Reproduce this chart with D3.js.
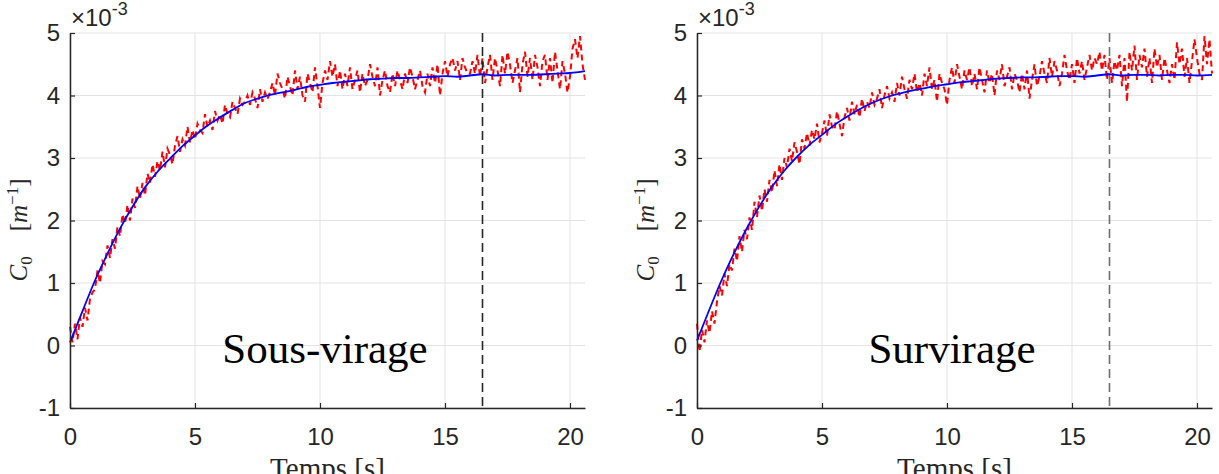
<!DOCTYPE html>
<html>
<head>
<meta charset="utf-8">
<script src="https://cdn.jsdelivr.net/npm/d3@7"></script>
<style>
  body { margin: 0; background: #fff; }
  svg { display: block; }
</style>
</head>
<body>
<div class="chart"></div>
<script>
// data (C0 in units of 1e-3 m^-1)
var xTicks = [0, 5, 10, 15, 20];
var yTicks = [-1, 0, 1, 2, 3, 4, 5];
var markerT = 16.5;

// filtered estimate, one value every 0.5 s (last point at 20.6 s)
var fitTime = [0, 0.5, 1, 1.5, 2, 2.5, 3, 3.5, 4, 4.5, 5, 5.5, 6, 6.5, 7, 7.5, 8, 8.5, 9, 9.5,
  10, 10.5, 11, 11.5, 12, 12.5, 13, 13.5, 14, 14.5, 15, 15.5, 16, 16.5, 17, 17.5, 18, 18.5, 19, 19.5, 20, 20.6];
var fitSous = [0.05, 0.55, 1.04, 1.47, 1.87, 2.22, 2.53, 2.78, 2.99, 3.19, 3.36, 3.52, 3.65, 3.77, 3.88, 3.95, 4.01, 4.05, 4.09, 4.14,
  4.17, 4.20, 4.22, 4.24, 4.26, 4.27, 4.28, 4.28, 4.29, 4.30, 4.31, 4.30, 4.32, 4.34, 4.32, 4.33, 4.33, 4.33, 4.34, 4.35, 4.36, 4.39];
var fitSur = [0.08, 0.58, 1.06, 1.49, 1.88, 2.23, 2.54, 2.80, 3.02, 3.21, 3.37, 3.53, 3.66, 3.78, 3.88, 3.96, 4.02, 4.07, 4.11, 4.15,
  4.18, 4.21, 4.23, 4.25, 4.27, 4.28, 4.29, 4.29, 4.30, 4.31, 4.31, 4.30, 4.32, 4.34, 4.32, 4.33, 4.33, 4.32, 4.33, 4.33, 4.32, 4.33];

// raw measurement, one value every 0.1 s from 0 to 20.6 s
var measSous = [
  0.30, 0.05, 0.35, 0.10, 0.45, 0.30, 0.60, 0.40, 0.75, 0.85,
  0.90, 1.20, 1.00, 1.35, 1.30, 1.60, 1.40, 1.70, 1.55, 1.90,
  1.75, 2.10, 1.95, 2.25, 2.00, 2.35, 2.20, 2.55, 2.35, 2.60,
  2.40, 2.75, 2.60, 2.90, 2.70, 2.95, 2.80, 3.10, 2.85, 3.15,
  3.05, 2.90, 3.20, 3.35, 3.10, 3.30, 3.20, 3.50, 3.25, 3.45,
  3.30, 3.55, 3.45, 3.40, 3.70, 3.50, 3.60, 3.45, 3.75, 3.60,
  3.70, 3.55, 3.85, 3.70, 3.65, 3.90, 3.80, 3.70, 3.95, 3.85,
  3.90, 4.00, 3.85, 4.05, 3.95, 3.80, 4.10, 3.90, 4.05, 3.95,
  4.05, 4.20, 4.00, 4.35, 4.20, 4.10, 3.95, 4.30, 4.15, 4.00,
  4.40, 4.10, 4.30, 4.00, 3.90, 4.35, 4.20, 4.05, 4.45, 4.15,
  3.80, 4.20, 4.40, 4.25, 4.55, 4.30, 4.50, 4.15, 4.40, 4.10,
  4.35, 4.15, 4.45, 4.10, 4.25, 4.40, 4.05, 4.35, 4.15, 4.25,
  4.50, 4.30, 4.15, 4.45, 4.00, 4.25, 4.40, 4.15, 4.05, 4.35,
  4.15, 4.40, 4.25, 4.10, 4.35, 4.20, 4.45, 4.30, 4.10, 4.25,
  4.40, 4.15, 4.05, 4.35, 4.15, 4.45, 4.20, 4.50, 4.00, 4.35,
  4.55, 4.30, 4.50, 4.60, 4.40, 4.55, 4.25, 4.60, 4.45, 4.35,
  4.35, 4.55, 4.35, 4.65, 4.30, 4.60, 4.20, 4.45, 4.65, 4.25,
  4.60, 4.40, 4.15, 4.65, 4.35, 4.70, 4.50, 4.20, 4.40, 4.60,
  4.05, 4.50, 4.70, 4.30, 4.60, 4.25, 4.65, 4.45, 4.15, 4.55,
  4.65, 4.25, 4.60, 4.20, 4.70, 4.40, 4.10, 4.55, 4.35, 4.05,
  4.30, 4.75, 4.90, 4.60, 4.95, 4.50, 4.25];
var measSur = [
  0.35, -0.10, 0.25, 0.05, 0.40, 0.20, 0.55, 0.35, 0.70, 0.95,
  0.80, 1.15, 0.95, 1.30, 1.20, 1.55, 1.35, 1.75, 1.50, 1.85,
  1.70, 2.05, 1.85, 2.30, 2.05, 2.40, 2.15, 2.50, 2.30, 2.65,
  2.45, 2.80, 2.55, 2.90, 2.65, 3.00, 2.85, 3.15, 2.95, 3.25,
  3.10, 2.90, 3.30, 3.15, 3.40, 3.20, 3.45, 3.30, 3.55, 3.25,
  3.40, 3.60, 3.35, 3.70, 3.50, 3.45, 3.75, 3.55, 3.35, 3.65,
  3.80, 3.60, 3.90, 3.70, 3.85, 3.65, 3.95, 3.75, 3.90, 3.80,
  4.05, 3.85, 3.95, 4.10, 3.80, 4.00, 4.15, 3.95, 4.05, 3.90,
  4.20, 4.00, 4.30, 4.10, 3.95, 4.25, 4.10, 4.35, 4.05, 4.20,
  4.00, 4.35, 4.15, 4.45, 4.10, 4.25, 3.90, 4.35, 4.20, 4.10,
  3.85, 4.25, 4.45, 4.20, 4.50, 4.30, 4.10, 4.40, 4.25, 4.45,
  4.15, 4.35, 4.10, 4.45, 4.25, 4.05, 4.40, 4.20, 4.35, 4.00,
  4.40, 4.25, 4.50, 4.15, 4.30, 4.45, 4.10, 4.35, 4.25, 4.05,
  4.35, 4.10, 4.40, 3.95, 4.25, 4.50, 4.15, 4.30, 4.55, 4.35,
  4.20, 4.60, 4.30, 4.55, 4.40, 4.15, 4.35, 4.65, 4.40, 4.25,
  4.50, 4.20, 4.60, 4.35, 4.55, 4.25, 4.45, 4.65, 4.40, 4.60,
  4.50, 4.70, 4.40, 4.65, 4.25, 4.60, 4.20, 4.55, 4.40, 4.65,
  4.15, 4.60, 3.90, 4.70, 4.40, 4.80, 4.25, 4.65, 4.45, 4.75,
  4.30, 4.60, 4.20, 4.75, 4.45, 4.65, 4.25, 4.60, 4.40, 4.20,
  4.50, 4.25, 4.85, 4.50, 4.75, 4.30, 4.60, 4.20, 4.55, 4.90,
  4.60, 4.35, 4.25, 4.95, 4.50, 4.90, 4.35];

var panels = [
  { left: 70, fit: fitSous, meas: measSous, label: "Sous-virage", markerColor: "#262626" },
  { left: 697, fit: fitSur, meas: measSur, label: "Survirage", markerColor: "#6e6e6e" }
];

var width = 1219, height = 474;
var plotW = 515, plotTop = 33, plotBottom = 408;
var ink = "#262626";
var sans = "'Liberation Sans', Arial, sans-serif";
var serif = "'Liberation Serif', 'Times New Roman', serif";

var svg = d3.select(".chart").append("svg")
  .attr("width", width)
  .attr("height", height);

panels.forEach(function(p) {
  var x = d3.scaleLinear().domain([0, 20.6]).range([p.left, p.left + plotW]);
  var y = d3.scaleLinear().domain([-1, 5]).range([plotBottom, plotTop]);
  var g = svg.append("g");

  // grid
  g.selectAll(".vgrid").data(xTicks).enter().append("line")
    .attr("x1", function(d) { return x(d); }).attr("x2", function(d) { return x(d); })
    .attr("y1", plotTop).attr("y2", plotBottom)
    .attr("stroke", "#e3e3e3").attr("stroke-width", 1);
  g.selectAll(".hgrid").data(yTicks).enter().append("line")
    .attr("x1", p.left).attr("x2", p.left + plotW)
    .attr("y1", function(d) { return y(d); }).attr("y2", function(d) { return y(d); })
    .attr("stroke", "#e3e3e3").attr("stroke-width", 1);

  // measurement (red dashed)
  var measLine = d3.line()
    .x(function(d, i) { return x(i * 0.1); })
    .y(function(d) { return y(d); });
  g.append("path")
    .datum(p.meas)
    .attr("d", measLine)
    .attr("fill", "none")
    .attr("stroke", "#ff0000")
    .attr("stroke-width", 2)
    .attr("stroke-dasharray", "6,4");

  // estimate (blue)
  var fitLine = d3.line()
    .curve(d3.curveMonotoneX)
    .x(function(d, i) { return x(fitTime[i]); })
    .y(function(d) { return y(d); });
  g.append("path")
    .datum(p.fit)
    .attr("d", fitLine)
    .attr("fill", "none")
    .attr("stroke", "#0000ff")
    .attr("stroke-width", 1.8);

  // vertical marker
  g.append("line")
    .attr("x1", x(markerT)).attr("x2", x(markerT))
    .attr("y1", plotTop).attr("y2", plotBottom)
    .attr("stroke", p.markerColor)
    .attr("stroke-width", 1.6)
    .attr("stroke-dasharray", "9,5");

  // axes
  var xAxis = g.append("g")
    .attr("transform", "translate(0," + plotBottom + ")")
    .call(d3.axisBottom(x).tickValues(xTicks).tickSizeInner(-5).tickSizeOuter(0).tickPadding(20)
      .tickFormat(function(d) { return String(d); }));
  var yAxis = g.append("g")
    .attr("transform", "translate(" + p.left + ",0)")
    .call(d3.axisLeft(y).tickValues(yTicks).tickSizeInner(-5).tickSizeOuter(0).tickPadding(10)
      .tickFormat(function(d) { return String(d); }));
  [xAxis, yAxis].forEach(function(a) {
    a.attr("font-size", 24).attr("font-family", sans);
    a.select(".domain").attr("stroke", ink).attr("stroke-width", 1.5);
    a.selectAll(".tick line").attr("stroke", ink).attr("stroke-width", 1.2);
    a.selectAll(".tick text").attr("fill", ink);
  });

  // exponent
  var ex = g.append("text")
    .attr("x", p.left + 1).attr("y", 26)
    .attr("fill", ink)
    .attr("font-family", sans)
    .attr("font-size", "24px");
  ex.append("tspan").text("\u00d710");
  ex.append("tspan").attr("dy", -11).attr("font-size", "18px").text("-3");

  // y label
  var yl = g.append("text")
    .attr("transform", "translate(" + (p.left - 43) + ",230) rotate(-90)")
    .attr("text-anchor", "middle")
    .attr("fill", ink)
    .attr("font-family", serif)
    .attr("font-size", "25px");
  yl.append("tspan").attr("font-style", "italic").text("C");
  yl.append("tspan").attr("dy", 5).attr("font-size", "17px").text("0");
  yl.append("tspan").attr("dy", -5).text("\u2003[");
  yl.append("tspan").attr("font-style", "italic").text("m");
  yl.append("tspan").attr("dy", -9).attr("font-size", "17px").text("\u22121");
  yl.append("tspan").attr("dy", 9).text("]");

  // x label
  g.append("text")
    .attr("x", x(10.3)).attr("y", 478)
    .attr("text-anchor", "middle")
    .attr("fill", ink)
    .attr("font-family", serif)
    .attr("font-size", "29px")
    .text("Temps [s]");

  // case label
  g.append("text")
    .attr("x", x(10.2)).attr("y", 363)
    .attr("text-anchor", "middle")
    .attr("fill", "#000")
    .attr("font-family", serif)
    .attr("font-size", "43px")
    .text(p.label);
});
</script>
</body>
</html>
